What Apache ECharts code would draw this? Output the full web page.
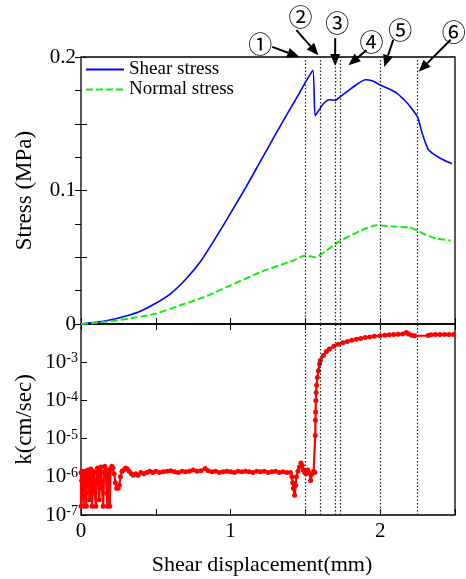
<!DOCTYPE html>
<html>
<head>
<meta charset="utf-8">
<script src="https://cdn.jsdelivr.net/npm/echarts@6/dist/echarts.min.js"></script>
<style>
  html, body { margin: 0; padding: 0; background: #fff; }
  #chart { width: 466px; height: 579px; }
</style>
</head>
<body>
<div id="chart"></div>
<script>
// [shear displacement (mm), stress (MPa)]
const shearStress = [
  [0, 0], [0.1, 0.0012], [0.2, 0.0032], [0.3, 0.006], [0.4, 0.0098], [0.5, 0.0155],
  [0.6, 0.0228], [0.7, 0.0335], [0.8, 0.047], [0.9, 0.0645], [1.0, 0.083], [1.1, 0.102],
  [1.2, 0.122], [1.3, 0.142], [1.4, 0.1615], [1.46, 0.173], [1.5, 0.181], [1.55, 0.190],
  [1.565, 0.156], [1.59, 0.160], [1.62, 0.165], [1.66, 0.168], [1.70, 0.1675], [1.73, 0.170],
  [1.80, 0.176], [1.85, 0.180], [1.90, 0.183], [1.95, 0.182], [2.0, 0.179], [2.06, 0.176],
  [2.11, 0.173], [2.16, 0.168], [2.2, 0.163], [2.25, 0.155], [2.28, 0.143], [2.32, 0.131],
  [2.36, 0.127], [2.42, 0.123], [2.48, 0.120]
];
const normalStress = [
  [0, 0], [0.19, 0.0019], [0.37, 0.005], [0.5, 0.0077], [0.66, 0.0139], [0.82, 0.020],
  [1.0, 0.0289], [1.2, 0.0389], [1.42, 0.0476], [1.5, 0.0514], [1.565, 0.050], [1.64, 0.055],
  [1.73, 0.062], [1.87, 0.070], [1.98, 0.0739], [2.09, 0.073], [2.2, 0.0722], [2.25, 0.070],
  [2.31, 0.0664], [2.38, 0.064], [2.47, 0.0626]
];
// [shear displacement (mm), k (cm/sec)]
const permeability = [
  [0.000, 1.3e-6], [0.000, 1.7e-7], [0.004, 8e-7], [0.008, 1.4e-6], [0.012, 5e-7], [0.018, 1.7e-7],
  [0.022, 1.1e-6], [0.026, 1.4e-6], [0.032, 3.7e-7], [0.036, 1.7e-7], [0.040, 1.2e-6], [0.046, 1.5e-6],
  [0.052, 8e-7], [0.056, 2.5e-7], [0.062, 1.3e-6], [0.066, 1.6e-6], [0.070, 5e-7], [0.074, 1.7e-7],
  [0.080, 1.2e-6], [0.086, 1.4e-6], [0.092, 3.7e-7], [0.100, 1.7e-7], [0.104, 1.3e-6], [0.110, 1.7e-6],
  [0.116, 8e-7], [0.122, 2.5e-7], [0.128, 1.4e-6], [0.134, 1.8e-6], [0.140, 5e-7], [0.148, 1.7e-7],
  [0.154, 1.3e-6], [0.160, 1.9e-6], [0.166, 1.2e-6], [0.172, 3.7e-7], [0.176, 1.7e-7], [0.182, 1.5e-6],
  [0.188, 1.3e-6], [0.192, 1.7e-7], [0.198, 1.6e-6], [0.206, 1.9e-6], [0.214, 1.7e-6], [0.222, 1.2e-6],
  [0.230, 7e-7], [0.238, 5e-7], [0.248, 5e-7], [0.256, 6e-7], [0.264, 1.0e-6], [0.274, 1.4e-6],
  [0.286, 1.5e-6], [0.298, 1.7e-6], [0.310, 1.6e-6], [0.322, 1.4e-6], [0.336, 1.2e-6], [0.350, 1.1e-6],
  [0.366, 1.2e-6], [0.382, 1.1e-6], [0.400, 1.3e-6], [0.420, 1.2e-6], [0.440, 1.3e-6], [0.460, 1.4e-6],
  [0.480, 1.3e-6], [0.500, 1.4e-6], [0.525, 1.3e-6], [0.550, 1.35e-6], [0.575, 1.4e-6], [0.600, 1.45e-6],
  [0.625, 1.35e-6], [0.650, 1.3e-6], [0.675, 1.4e-6], [0.700, 1.35e-6], [0.725, 1.4e-6], [0.750, 1.5e-6],
  [0.775, 1.4e-6], [0.800, 1.45e-6], [0.830, 1.65e-6], [0.850, 1.45e-6], [0.875, 1.35e-6], [0.900, 1.4e-6],
  [0.925, 1.3e-6], [0.950, 1.35e-6], [0.975, 1.4e-6], [1.000, 1.35e-6], [1.025, 1.3e-6], [1.050, 1.4e-6],
  [1.075, 1.35e-6], [1.100, 1.4e-6], [1.125, 1.35e-6], [1.150, 1.3e-6], [1.175, 1.4e-6], [1.200, 1.35e-6],
  [1.225, 1.4e-6], [1.250, 1.3e-6], [1.275, 1.35e-6], [1.300, 1.4e-6], [1.325, 1.3e-6], [1.350, 1.35e-6],
  [1.375, 1.3e-6], [1.400, 1.3e-6], [1.410, 1.0e-6], [1.415, 7e-7], [1.420, 5e-7], [1.428, 3.3e-7],
  [1.435, 6e-7], [1.440, 1.0e-6], [1.450, 1.4e-6], [1.460, 1.8e-6], [1.470, 2.3e-6], [1.478, 2.0e-6],
  [1.486, 1.5e-6], [1.495, 1.3e-6], [1.505, 1.2e-6], [1.515, 1.5e-6], [1.525, 1.3e-6], [1.535, 8e-7],
  [1.545, 1.2e-6], [1.555, 1.4e-6], [1.563, 1.3e-6], [1.566, 1.2e-5], [1.567, 3e-5], [1.568, 5e-5],
  [1.570, 1e-4], [1.572, 1.6e-4], [1.575, 2.5e-4], [1.580, 4e-4], [1.587, 6e-4], [1.595, 9e-4],
  [1.600, 1.1e-3], [1.620, 1.5e-3], [1.640, 1.9e-3], [1.660, 2.2e-3], [1.690, 2.6e-3], [1.720, 2.95e-3],
  [1.750, 3.25e-3], [1.780, 3.5e-3], [1.810, 3.75e-3], [1.840, 4.0e-3], [1.870, 4.2e-3], [1.900, 4.4e-3],
  [1.930, 4.6e-3], [1.960, 4.75e-3], [2.000, 4.95e-3], [2.030, 5.1e-3], [2.060, 5.2e-3], [2.090, 5.3e-3],
  [2.120, 5.4e-3], [2.150, 5.45e-3], [2.175, 6.0e-3], [2.190, 5.5e-3], [2.210, 5.1e-3], [2.230, 4.9e-3],
  [2.320, 5.0e-3], [2.340, 5.2e-3], [2.370, 5.3e-3], [2.400, 5.3e-3], [2.430, 5.3e-3], [2.460, 5.3e-3],
  [2.490, 5.3e-3]
];
const eventLines = [1.5, 1.6, 1.7, 1.73, 2.0, 2.25];
// arrow tip in data units; tail and label as pixel offsets from the tip
const eventMarks = [
  { label: '①', x: 1.459, y: 0.2001, dx: -27, dy: -10, lx: -39, ly: -13 },
  { label: '②', x: 1.587, y: 0.2014, dx: -22, dy: -25, lx: -18, ly: -38 },
  { label: '③', x: 1.699, y: 0.1932, dx: 0, dy: -28, lx: 2, ly: -43 },
  { label: '④', x: 1.788, y: 0.1939, dx: 18, dy: -15, lx: 23, ly: -23 },
  { label: '⑤', x: 2.027, y: 0.1926, dx: 9, dy: -27, lx: 16, ly: -37 },
  { label: '⑥', x: 2.257, y: 0.1889, dx: 32, dy: -32, lx: 35, ly: -40 }
];

const SERIF = 'Liberation Serif';
const GRID_LEFT = 81, GRID_RIGHT = 11, TOP_Y = 57, MID_Y = 324, BOTTOM_Y = 515;

const chart = echarts.init(document.getElementById('chart'));

const hidden = { show: false };
const inTick = (len) => ({ show: true, inside: true, length: len, lineStyle: { color: '#000', width: 1 } });

function xAxisFor(grid, position, showLabels) {
  return {
    type: 'value', gridIndex: grid, position, min: 0, max: 2.5, interval: 0.5,
    axisLine: hidden, splitLine: hidden, axisTick: inTick(6),
    axisLabel: showLabels ? {
      show: true, margin: 6, color: '#000', fontFamily: SERIF, fontSize: 21,
      formatter: v => (Number.isInteger(v) && v < 2.5 ? String(v) : '')
    } : hidden
  };
}

function supLabel(v) {
  const e = Math.round(Math.log10(v));
  if (e >= -2) return '';
  return '{b|10}{s|' + e + '}';
}

const dotted = {
  silent: true, symbol: ['none', 'none'], label: hidden,
  lineStyle: { type: [1.5, 2], color: '#222', width: 1.2 },
  data: eventLines.map(x => ({ xAxis: x }))
};

const option = {
  animation: false,
  textStyle: { fontFamily: SERIF },
  grid: [
    { left: GRID_LEFT, right: GRID_RIGHT, top: TOP_Y, height: MID_Y - TOP_Y, show: true,
      borderColor: '#000', borderWidth: 1.3, backgroundColor: 'transparent', outerBoundsMode: 'none' },
    { left: GRID_LEFT, right: GRID_RIGHT, top: MID_Y, height: BOTTOM_Y - MID_Y, show: true,
      borderColor: '#000', borderWidth: 1.3, backgroundColor: 'transparent', outerBoundsMode: 'none' }
  ],
  legend: {
    orient: 'vertical', left: 80, top: 55, itemWidth: 38, itemHeight: 14, itemGap: 1,
    itemStyle: { opacity: 0 },
    textStyle: { fontFamily: SERIF, fontSize: 19, color: '#000' },
    data: ['Shear stress', 'Normal stress']
  },
  xAxis: [
    xAxisFor(0, 'bottom', false),
    xAxisFor(0, 'top', false),
    xAxisFor(1, 'bottom', true),
    xAxisFor(1, 'top', false)
  ],
  yAxis: [
    {
      type: 'value', gridIndex: 0, position: 'left', min: 0, max: 0.2, interval: 0.05,
      axisLine: hidden, splitLine: hidden, axisTick: inTick(6),
      axisLabel: {
        margin: 5, color: '#000', fontFamily: SERIF, fontSize: 21,
        formatter: v => (Math.abs(v * 10 - Math.round(v * 10)) < 1e-6 ? String(Math.round(v * 10) / 10) : '')
      }
    },
    {
      type: 'value', gridIndex: 0, position: 'right', min: 0, max: 0.2, interval: 0.025,
      axisLine: hidden, splitLine: hidden, axisTick: inTick(6), axisLabel: hidden
    },
    {
      type: 'log', logBase: 10, gridIndex: 1, position: 'left', min: 1e-7, max: 1e-2, splitNumber: 5,
      axisLine: hidden, splitLine: hidden, axisTick: inTick(6), minorTick: hidden,
      axisLabel: {
        margin: 3, color: '#000', formatter: supLabel,
        rich: {
          b: { fontFamily: SERIF, fontSize: 21, color: '#000' },
          s: { fontFamily: SERIF, fontSize: 14, color: '#000', verticalAlign: 'top' }
        }
      }
    }
  ],
  series: [
    {
      name: 'Shear stress', type: 'line', xAxisIndex: 0, yAxisIndex: 0, data: shearStress,
      symbol: 'none', smooth: 0.2, lineStyle: { color: '#0000ff', width: 1.6 }, itemStyle: { color: '#0000ff' },
      markLine: dotted
    },
    {
      name: 'Normal stress', type: 'line', xAxisIndex: 0, yAxisIndex: 0, data: normalStress,
      symbol: 'none', smooth: 0.2, lineStyle: { color: '#11ee11', width: 2, type: [7, 3] }, itemStyle: { color: '#11ee11' }
    },
    {
      name: 'k', type: 'line', xAxisIndex: 2, yAxisIndex: 2, data: permeability,
      symbol: 'circle', symbolSize: 5, showSymbol: true,
      lineStyle: { color: '#ff0000', width: 2.2 }, itemStyle: { color: '#ff0000' },
      markLine: dotted
    }
  ]
};

chart.setOption(option);

// axis titles and the numbered arrows
const graphics = [
  { type: 'text', x: 25, y: (TOP_Y + MID_Y) / 2, rotation: Math.PI / 2,
    style: { text: 'Stress (MPa)', fontFamily: SERIF, fontSize: 23, fill: '#000', align: 'center', verticalAlign: 'middle' } },
  { type: 'text', x: 25, y: (MID_Y + BOTTOM_Y) / 2, rotation: Math.PI / 2,
    style: { text: 'k(cm/sec)', fontFamily: SERIF, fontSize: 23, fill: '#000', align: 'center', verticalAlign: 'middle' } },
  { type: 'text', x: 262, y: 565,
    style: { text: 'Shear displacement(mm)', fontFamily: SERIF, fontSize: 22, fill: '#000', align: 'center', verticalAlign: 'middle' } }
];

eventMarks.forEach(m => {
  const [tx, ty] = chart.convertToPixel({ xAxisIndex: 0, yAxisIndex: 0 }, [m.x, m.y]);
  const sx = tx + m.dx, sy = ty + m.dy;
  const len = Math.hypot(tx - sx, ty - sy);
  const ux = (tx - sx) / len, uy = (ty - sy) / len;
  const head = 12, half = 5;
  const bx = tx - ux * head, by = ty - uy * head;
  graphics.push({ type: 'line', shape: { x1: sx, y1: sy, x2: bx, y2: by }, style: { stroke: '#000', lineWidth: 2 } });
  graphics.push({
    type: 'polygon',
    shape: { points: [[tx, ty], [bx - uy * half, by + ux * half], [bx + uy * half, by - ux * half]] },
    style: { fill: '#000' }
  });
  graphics.push({
    type: 'text', x: tx + m.lx, y: ty + m.ly,
    style: { text: m.label, fontFamily: 'Noto Sans CJK JP', fontSize: 24, fill: '#000', align: 'center', verticalAlign: 'middle' }
  });
});

chart.setOption({ graphic: graphics });
</script>
</body>
</html>
